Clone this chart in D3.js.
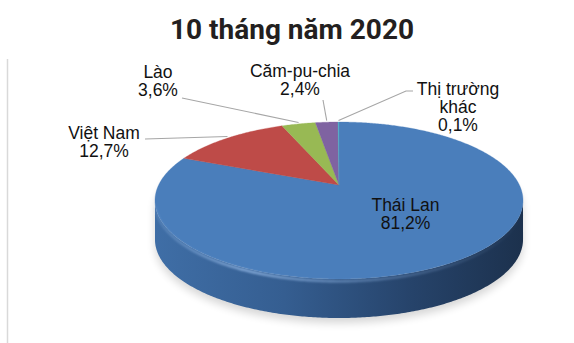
<!DOCTYPE html>
<html>
<head>
<meta charset="utf-8">
<script src="https://cdn.jsdelivr.net/npm/d3@7"></script>
<style>
  body { margin: 0; background: #fff; }
  svg { display: block; }
</style>
</head>
<body>
<svg id="chart" width="574" height="343"></svg>
<script>
// Market shares, 10 months of 2020
const categories = ["Thái Lan", "Việt Nam", "Lào", "Căm-pu-chia", "Thị trường khác"];
const shares = [81.2, 12.7, 3.6, 2.4, 0.1];
const valueLabels = ["81,2%", "12,7%", "3,6%", "2,4%", "0,1%"];
const nameLines = [["Thái Lan"], ["Việt Nam"], ["Lào"], ["Căm-pu-chia"], ["Thị trường", "khác"]];
const colors = ["#4A7EBB", "#BE4B48", "#98B954", "#7F63A1", "#4BACC6"];
const titleText = "10 tháng năm 2020";

const svg = d3.select("#chart");

// Tilted disc with mild perspective: angle 0 = back (12 o'clock), clockwise.
const cx = 339, k = 180.4, A = 38.9, B = 185, C = -0.1975, depth = 39;
function proj(theta, dy = 0) {
  const u = Math.sin(theta), v = -Math.cos(theta);
  const d = 1 + C * v;
  return [cx + k * u / d, (A * v + B) / d + dy];
}
function arcPoints(a0, a1, dy = 0) {
  const n = Math.max(2, Math.ceil(Math.abs(a1 - a0) / 0.01));
  return d3.range(n + 1).map(i => proj(a0 + (a1 - a0) * i / n, dy));
}

const defs = svg.append("defs");
const blur = defs.append("filter").attr("id", "soft").attr("x", "-20%").attr("y", "-20%").attr("width", "140%").attr("height", "140%");
blur.append("feGaussianBlur").attr("stdDeviation", 4);
const blur2 = defs.append("filter").attr("id", "glow").attr("x", "-10%").attr("y", "-50%").attr("width", "120%").attr("height", "200%");
blur2.append("feGaussianBlur").attr("stdDeviation", 1.2);

const sideGrad = defs.append("linearGradient").attr("id", "side")
  .attr("gradientUnits", "userSpaceOnUse").attr("x1", cx - 184).attr("x2", cx + 184).attr("y1", 0).attr("y2", 0);
[[0, "#3F6EA6"], [0.35, "#355E91"], [0.7, "#26436A"], [1, "#1C314D"]]
  .forEach(([o, c]) => sideGrad.append("stop").attr("offset", o).attr("stop-color", c));

const rimGrad = defs.append("linearGradient").attr("id", "rim")
  .attr("gradientUnits", "userSpaceOnUse").attr("x1", cx - 184).attr("x2", cx + 184).attr("y1", 0).attr("y2", 0);
[[0, "#9CC0EC", 0.2], [0.25, "#9CC0EC", 0.75], [0.55, "#8DB3E2", 0.45], [1, "#8DB3E2", 0]]
  .forEach(([o, c, a]) => rimGrad.append("stop").attr("offset", o).attr("stop-color", c).attr("stop-opacity", a));

const line = d3.line();

// left frame line
svg.append("line").attr("x1", 7.5).attr("x2", 7.5).attr("y1", 59).attr("y2", 343)
  .attr("stroke", "#D9D9D9").attr("stroke-width", 1.5);

// Title
svg.append("text").attr("x", 292).attr("y", 39).attr("text-anchor", "middle")
  .attr("font-family", "Roboto, sans-serif").attr("font-weight", 700).attr("font-size", 28)
  .attr("fill", "#231F20").text(titleText);

// Silhouette angles (widest points)
const thR = Math.acos(C), thL = 2 * Math.PI - Math.acos(C);

// Drop shadow
const shadowPts = arcPoints(thR, thL, depth + 5).concat(arcPoints(thL, thR + 2 * Math.PI, 0).map(p => [p[0], p[1] + 10]));
svg.append("path").attr("d", line(shadowPts) + "Z").attr("fill", "#000").attr("opacity", 0.16).attr("filter", "url(#soft)");

// Side wall (front half only: it belongs to the first slice)
const sidePts = arcPoints(thR, thL, 0).concat(arcPoints(thL, thR, depth));
svg.append("path").attr("d", line(sidePts) + "Z").attr("fill", "url(#side)");

// Top face slices
const pie = d3.pie().sort(null).value(d => d).startAngle(0).endAngle(2 * Math.PI);
const arcs = pie(shares);
svg.append("g").selectAll("path").data(arcs).join("path")
  .attr("d", d => line([[cx, B]].concat(arcPoints(d.startAngle, d.endAngle))) + "Z")
  .attr("fill", (d, i) => colors[i])
  .attr("stroke", (d, i) => colors[i]).attr("stroke-width", 0.3);

// Bevel highlight along the front rim
svg.append("path").attr("d", line(arcPoints(thL - 0.05, thR + 0.1, 2.2)))
  .attr("fill", "none").attr("stroke", "url(#rim)").attr("stroke-width", 2.6).attr("filter", "url(#glow)");

// Labels: one text element per line
const labelPos = [[405.5, 211], [104, 139], [158, 77.5], [300, 76.5], [458, 95]];
const lineGap = 18;
const labels = svg.append("g").attr("font-family", "'Liberation Sans', Arial, sans-serif")
  .attr("font-size", 17.5).attr("fill", "#111").attr("text-anchor", "middle");
arcs.forEach((d, i) => {
  nameLines[i].concat([valueLabels[i]]).forEach((s, j) => {
    labels.append("text").attr("x", labelPos[i][0]).attr("y", labelPos[i][1] + j * lineGap).text(s);
  });
});

// Leader lines from labels to slice rims
const leaderStart = [null, [[145, 139]], [[182, 98]], [[323, 100]], [[413, 91], [406, 91]]];
arcs.forEach((d, i) => {
  if (!leaderStart[i]) return;
  const mid = (d.startAngle + d.endAngle) / 2;
  const end = proj(mid, 0);
  end[1] -= 1.5;
  svg.append("path").attr("d", line(leaderStart[i].concat([end])))
    .attr("fill", "none").attr("stroke", "#A6A6A6").attr("stroke-width", 1.1);
});
</script>
</body>
</html>
